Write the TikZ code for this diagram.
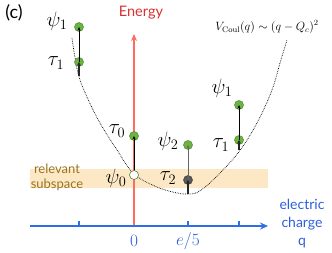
\documentclass[tikz,border=0pt]{standalone}
\usepackage{fontspec}
\newfontfamily\gill{Lato}
\usetikzlibrary{arrows.meta}
\definecolor{dotgreen}{HTML}{6DB33F}
\definecolor{dotedge}{HTML}{4C8A2C}
\definecolor{axblue}{HTML}{2D6FE8}
\definecolor{txtblue}{HTML}{2B5FDB}
\definecolor{axred}{HTML}{FF6B5E}
\definecolor{txtred}{HTML}{D93030}
\definecolor{band}{HTML}{FCE8C4}
\definecolor{bandtxt}{HTML}{9C7420}
\tikzset{
  dot/.style={circle,minimum size=9pt,inner sep=0pt,fill=dotgreen,draw=dotedge,line width=0.5pt},
  graydot/.style={dot,fill=black!65,draw=black!75},
  whitedot/.style={dot,fill=white,draw=dotedge!80!black},
  lvl/.style={font=\fontsize{20}{22}\selectfont},
  thinarr/.style={-{Stealth[length=3.5pt,width=3pt]},line width=0.9pt},
  thickbar/.style={-{Stealth[length=3.5pt,width=3.5pt]},line width=2.4pt,black!85},
}
\begin{document}
\begin{tikzpicture}[x=1pt,y=-1pt]
\useasboundingbox (0,0) rectangle (332,253);
% band
\fill[band] (30,169) rectangle (268,188);
\node[font=\gill\fontsize{13}{15.5}\selectfont,text=bandtxt,align=center] (rel) at (57,177.5) {relevant\\subspace};
% energy axis
\draw[axred,line width=1.2pt,-{Stealth[length=7pt,width=6pt]}] (134,227) -- (134,34) coordinate (etop);
\node[font=\gill\fontsize{14.5}{16}\selectfont,text=txtred] (energy) at (141,13) {Energy};
% charge axis
\coordinate (qstart) at (30,226);
\coordinate (qend) at (268,226);
\draw[axblue,line width=1.5pt,-{Stealth[length=8pt,width=7pt]}] (qstart) -- (qend);
\foreach \x/\n in {79/a,188/b,239/c}{
  \coordinate (t\n) at (\x,226);
  \draw[axblue,line width=1.5pt] (t\n) -- ++(0,-5);
}
\node[font=\fontsize{17}{19}\selectfont,text=txtblue] (zero) at (134,241) {$0$};
\node[font=\fontsize{17}{19}\selectfont,text=txtblue] (efive) at (188,241) {$e/5$};
\node[font=\gill\fontsize{14}{18}\selectfont,text=txtblue,align=center] (qlab) at (302,224) {electric\\charge\\q};
\node[font=\gill\fontsize{18}{20}\selectfont] (c) at (14,13) {(c)};
% Coulomb curve
\draw[densely dotted,line width=0.7pt] plot[smooth,tension=0.6] coordinates {
 (72,38) (78,73) (87,97) (100,123) (117,150) (134,174) (157,187) (177,193) (188,194)
 (198,192) (213,180) (238,153) (257,123) (272,90) (280,63) (287,40)};
\node[font=\fontsize{12}{14}\selectfont] (vc) at (267,27) {$V_{\rm Coul}(q)\sim(q-Q_c)^2$};
% bottom points on curve
\coordinate (bL) at (79,76);
\coordinate (bM) at (188,194);
\coordinate (bR) at (239,150);
% dots
\node[dot] (psiL) at (79,27) {};
\node[dot] (tauL) at (79,62) {};
\node[dot] (tau0) at (134,136) {};
\node[whitedot] (psi0) at (134,175) {};
\node[dot] (psi2) at (188,145) {};
\node[graydot] (tau2) at (188,180) {};
\node[dot] (psiR) at (239,105) {};
\node[dot] (tauR) at (239,140) {};
% arrows
\draw[thickbar] (bL) -- (tauL.center);
\draw[thinarr] (tauL.center) -- (psiL.center);
\draw[thinarr] (psi0.north) -- (tau0.center);
\draw[thickbar] (bM) -- (tau2.center);
\draw[thinarr,black!60] (tau2.center) -- (psi2.center);
\draw[thickbar] (bR) -- (tauR.center);
\draw[thinarr] (tauR.center) -- (psiR.center);
% labels
\node[lvl] (lpsiL) at (57,21) {$\psi_1$};
\node[lvl] (ltauL) at (56,63) {$\tau_1$};
\node[lvl] (ltau0) at (117,131) {$\tau_0$};
\node[lvl] (lpsi0) at (116,178) {$\psi_0$};
\node[lvl] (lpsi2) at (168,141) {$\psi_2$};
\node[lvl] (ltau2) at (168,178) {$\tau_2$};
\node[lvl] (lpsiR) at (222,88) {$\psi_1$};
\node[lvl] (ltauR) at (221,145) {$\tau_1$};
\end{tikzpicture}
\end{document}
